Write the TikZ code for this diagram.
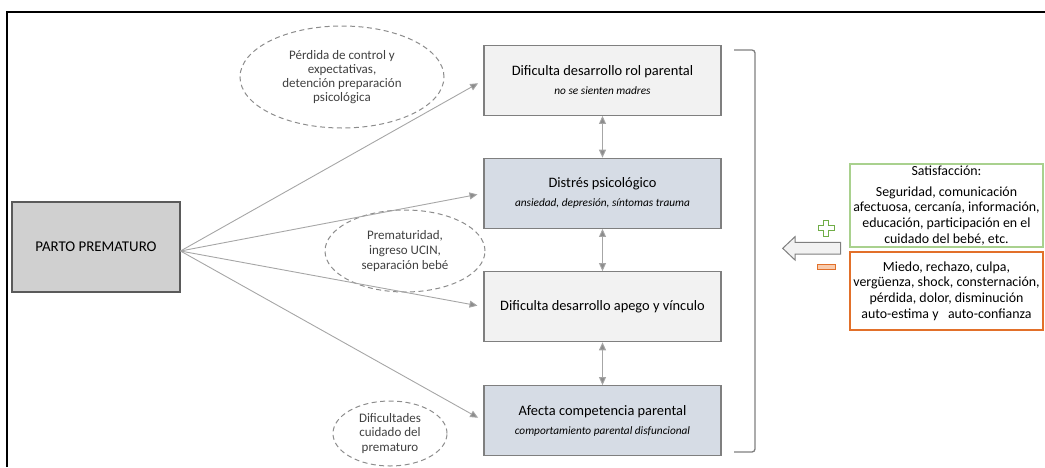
\documentclass[tikz,border=0pt]{standalone}
\usepackage{fontspec}
\setmainfont{Carlito}
\usetikzlibrary{arrows.meta,shapes.geometric,calc}

\definecolor{framec}{HTML}{000000}
\definecolor{boxline}{HTML}{7F7F7F}
\definecolor{lightfill}{HTML}{F2F2F2}
\definecolor{bluefill}{HTML}{D6DCE5}
\definecolor{partofill}{HTML}{D0D0D0}
\definecolor{partoline}{HTML}{5A5A5A}
\definecolor{connc}{HTML}{A6A6A6}
\definecolor{tipc}{HTML}{8C8C8C}
\definecolor{ellc}{HTML}{8C8C8C}
\definecolor{elltext}{HTML}{404040}
\definecolor{posline}{HTML}{A9D18E}
\definecolor{negline}{HTML}{E2702A}
\definecolor{plusc}{HTML}{70AD47}
\definecolor{minusfill}{HTML}{F8CBAD}

\newcommand{\stagetitle}{\fontsize{14.4}{16}\selectfont}
\newcommand{\stagenote}{\fontsize{11.3}{13}\selectfont\itshape}

\tikzset{
  stagebox/.style={draw=boxline, line width=1.2pt, minimum width=237pt, minimum height=70pt,
    inner sep=0pt, align=center, text=black},
  conn/.style={draw=connc, line width=0.9pt, -{Triangle[length=8pt,width=7pt,fill=tipc]}, shorten >=6pt},
  dbl/.style={draw=connc, line width=0.9pt, {Triangle[length=8pt,width=7pt,fill=tipc]}-{Triangle[length=8pt,width=7pt,fill=tipc]}},
  cloud/.style={ellipse, draw=ellc, dashed, dash pattern=on 5pt off 3.5pt, line width=1pt,
    inner sep=0pt, align=center, text=elltext, font=\fontsize{13}{14}\selectfont},
  infobox/.style={draw, line width=1.2pt, minimum width=193pt, inner sep=0pt, align=center,
    font=\fontsize{13.9}{15.8}\selectfont},
}

\begin{document}
\begin{tikzpicture}[x=1pt,y=-1pt]
\useasboundingbox (0,0) rectangle (1045,467);

% outer frame (top and left edges)
\draw[framec, line width=2pt] (6.5,467) -- (6.5,11.5) -- (1045,11.5);

% source box
\node[draw=partoline, fill=partofill, line width=1.2pt, minimum width=168pt, minimum height=90pt,
  inner sep=0pt, font=\fontsize{14.9}{16}\selectfont] (parto) at (96,247) {PARTO PREMATURO};

% the four consequence boxes
\node[stagebox, fill=lightfill] (b1) at (602.5,80.3)
  {{\stagetitle Dificulta desarrollo rol parental}\\[7pt]
   {\stagenote no se sienten madres}};
\node[stagebox, fill=bluefill] (b2) at (602.5,193.3)
  {{\stagetitle Distrés psicológico}\\[7pt]
   {\stagenote ansiedad, depresión, síntomas trauma}};
\node[stagebox, fill=lightfill] (b3) at (602.5,306.7)
  {{\stagetitle Dificulta desarrollo apego y vínculo}};
\node[stagebox, fill=bluefill] (b4) at (602.5,420.7)
  {{\stagetitle Afecta competencia parental}\\[7pt]
   {\stagenote comportamiento parental disfuncional}};

% mutual influences between stages
\draw[dbl] (b1.south) -- (b2.north);
\draw[dbl] (b2.south) -- (b3.north);
\draw[dbl] (b3.south) -- (b4.north);

% dashed explanatory clouds
\node[cloud, minimum width=204pt, minimum height=102pt] (e1) at (342,77)
  {Pérdida de control y\\expectativas,\\detención preparación\\psicológica};
\node[cloud, minimum width=160pt, minimum height=82pt, font=\fontsize{13}{15}\selectfont] (e2) at (405,251)
  {Prematuridad,\\ingreso UCIN,\\separación bebé};
\node[cloud, minimum width=114pt, minimum height=65pt, font=\fontsize{13}{14.5}\selectfont] (e3) at (390,433.5)
  {Dificultades\\cuidado del\\prematuro};

% arrows from the birth to each stage
\coordinate (src) at (180.5,251);
\draw[conn] (src) -- (b1.west);
\draw[conn] (src) -- (b2.west);
\draw[conn] (src) -- (b3.west);
\draw[conn] (src) -- (b4.west);

% bracket grouping the stages
\coordinate (brtop) at (734,50);
\coordinate (brbot) at (734,452);
\draw[boxline, line width=1.3pt, rounded corners=3pt]
  (brtop) -- (755,50) -- (755,452) -- (brbot);

% positive and negative factors
\node[infobox, draw=posline, minimum height=83pt] (pos) at (946.5,205.5)
  {Satisfacción:\\[5pt]Seguridad, comunicación\\afectuosa, cercanía, información,\\educación, participación en el\\cuidado del bebé, etc.};
\node[infobox, draw=negline, minimum height=78pt] (neg) at (946.5,291)
  {Miedo, rechazo, culpa,\\vergüenza, shock, consternación,\\pérdida, dolor, disminución\\auto-estima y\ \ \ auto-confianza};

% hollow arrow pointing to the bracket
\draw[boxline, fill=lightfill, line width=1pt, line join=miter]
  (840.5,242.3) -- (795,242.3) -- (795,236.7) -- (782.7,248.3) -- (795,260) -- (795,254) -- (840.5,254) -- cycle;

% plus sign
\draw[plusc, fill=white, line width=1pt]
  (823.5,220.5) -- (828.5,220.5) -- (828.5,225.8) -- (834,225.8) -- (834,230.8) -- (828.5,230.8)
  -- (828.5,236) -- (823.5,236) -- (823.5,230.8) -- (818,230.8) -- (818,225.8) -- (823.5,225.8) -- cycle;

% minus sign
\draw[negline, fill=minusfill, line width=1pt] (817,264) rectangle (835,269.5);

\end{tikzpicture}
\end{document}
